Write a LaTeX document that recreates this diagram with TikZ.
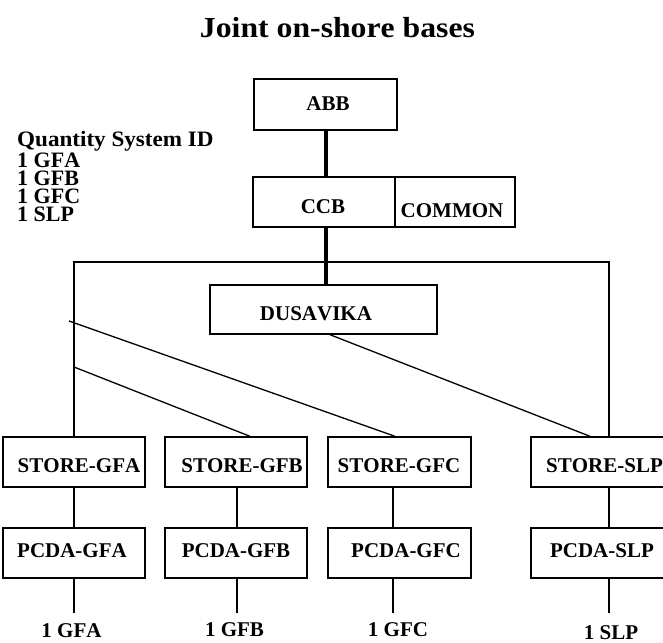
\documentclass[tikz,border=0pt]{standalone}
\usepackage{fontspec}
\usepackage{graphicx}
\setmainfont{Liberation Serif}[Kerning=Off]
\begin{document}
\begin{tikzpicture}[x=1pt,y=-1pt,
  boxnode/.style={draw,line width=1.4pt,inner sep=0pt,minimum height=50pt},
  boxtxt/.style={anchor=base,inner sep=0pt,font=\bfseries\fontsize{21}{24}\selectfont},
  sidetxt/.style={anchor=base west,inner sep=0pt,font=\bfseries\fontsize{22}{24}\selectfont},
  conn/.style={line width=1.3pt},
  thickconn/.style={line width=3.2pt}]
\useasboundingbox (0,0) rectangle (663,642);

% title
\node[anchor=base,inner sep=0pt,font=\bfseries\fontsize{29}{32}\selectfont] (title) at (337.5,38)
  {\resizebox{275pt}{\height}{Joint on-shore bases}};

% side list
\node[sidetxt] (q0) at (17,146) {\scalebox{1.05}[1]{Quantity System ID}};
\node[sidetxt] (q1) at (17,167) {1 GFA};
\node[sidetxt] (q2) at (17,185) {1 GFB};
\node[sidetxt] (q3) at (17,203) {1 GFC};
\node[sidetxt] (q4) at (17,221) {1 SLP};

% upper boxes
\node[boxnode,minimum width=143pt,minimum height=51pt] (abb) at (325.5,104.5) {};
\node[boxtxt] (abbt) at (328,110) {ABB};
\node[boxnode,minimum width=142pt] (ccb) at (324,202) {};
\node[boxtxt] (ccbt) at (323,213) {CCB};
\node[boxnode,minimum width=120pt] (common) at (455,202) {};
\node[boxtxt] (commont) at (452,217) {COMMON};
\node[boxnode,minimum width=227pt,minimum height=49pt] (dus) at (323.5,309.5) {};
\node[boxtxt] (dust) at (316,320.5) {DUSAVIKA};

% store boxes
\node[boxnode,minimum width=142pt] (sa) at (74,462) {};
\node[boxtxt] (sat) at (79,472.5) {STORE-GFA};
\node[boxnode,minimum width=142pt] (sb) at (236,462) {};
\node[boxtxt] (sbt) at (242,472.5) {STORE-GFB};
\node[boxnode,minimum width=143pt] (sc) at (399.5,462) {};
\node[boxtxt] (sct) at (399,472.5) {STORE-GFC};
\node[boxnode,minimum width=138pt] (ss) at (600,462) {};
\node[boxtxt] (sst) at (604.5,472.5) {STORE-SLP};

% pcda boxes
\node[boxnode,minimum width=142pt] (pa) at (74,553) {};
\node[boxtxt] (pat) at (72,557.5) {PCDA-GFA};
\node[boxnode,minimum width=142pt] (pb) at (236,553) {};
\node[boxtxt] (pbt) at (236,557.5) {PCDA-GFB};
\node[boxnode,minimum width=143pt] (pc) at (399.5,553) {};
\node[boxtxt] (pct) at (406,557.5) {PCDA-GFC};
\node[boxnode,minimum width=138pt] (ps) at (600,553) {};
\node[boxtxt] (pst) at (602,557.5) {PCDA-SLP};

% bottom labels
\node[boxtxt] (la) at (71.5,637) {1 GFA};
\node[boxtxt] (lb) at (234.5,636) {1 GFB};
\node[boxtxt] (lc) at (398,636) {1 GFC};
\node[boxtxt] (ls) at (611,639) {1 SLP};

% helper coordinates
\coordinate (tx) at (326,0);
\coordinate (hl) at (74,262);
\coordinate (hr) at (609,262);
\coordinate (d1) at (69,321);
\coordinate (d2) at (74,367);
\coordinate (xb) at (237,0);
\coordinate (xc) at (393,0);
\coordinate (xs) at (609,0);
\coordinate (x250) at (250,0);
\coordinate (x395) at (395,0);
\coordinate (x330) at (330,0);
\coordinate (x590) at (590,0);
\coordinate (ea) at (74,613);
\coordinate (eb) at (237,613);
\coordinate (ec) at (393,613);
\coordinate (es) at (609,613);

% thick spine
\draw[thickconn] (tx |- abb.south) -- (tx |- ccb.north);
\draw[thickconn] (tx |- ccb.south) -- (tx |- dus.north);

% bus
\draw[conn] (sa.north) -- (hl) -- (hr) -- (hr |- ss.north);

% diagonals
\draw[conn] (d1) -- (x395 |- sc.north);
\draw[conn] (d2) -- (x250 |- sb.north);
\draw[conn] (x330 |- dus.south) -- (x590 |- ss.north);

% store to pcda
\draw[conn] (sa.south) -- (pa.north);
\draw[conn] (xb |- sb.south) -- (xb |- pb.north);
\draw[conn] (xc |- sc.south) -- (xc |- pc.north);
\draw[conn] (xs |- ss.south) -- (xs |- ps.north);

% pcda to labels
\draw[conn] (pa.south) -- (ea);
\draw[conn] (eb |- pb.south) -- (eb);
\draw[conn] (ec |- pc.south) -- (ec);
\draw[conn] (es |- ps.south) -- (es);
\end{tikzpicture}
\end{document}
